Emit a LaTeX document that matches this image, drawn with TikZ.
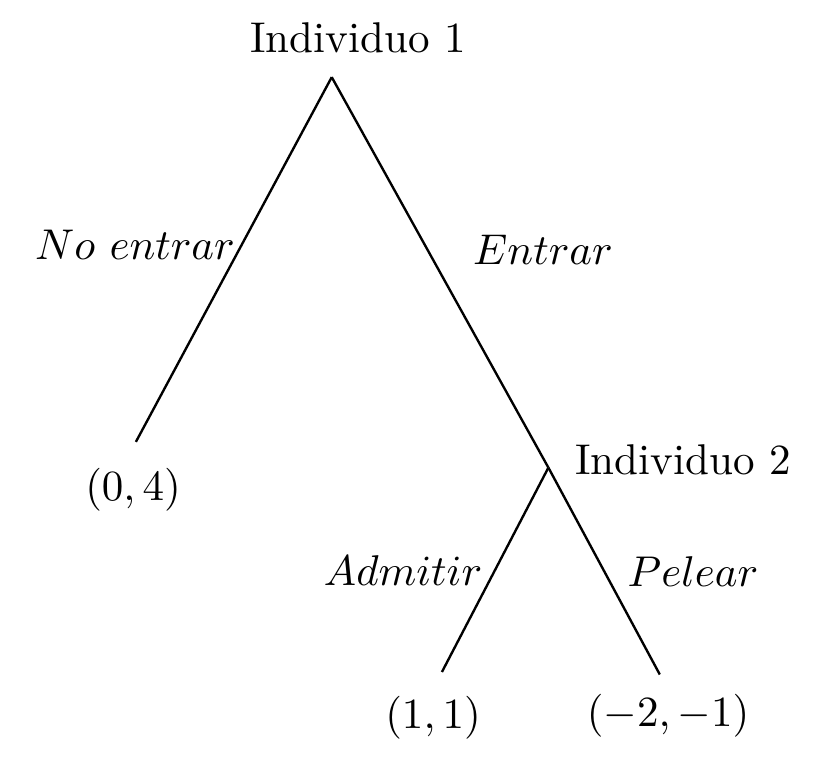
\documentclass[tikz,border=0pt]{standalone}
\usepackage{amsmath}
\usetikzlibrary{positioning}

\begin{document}
\begin{tikzpicture}[
  rama/.style={line width=0.55pt},
  jug/.style={inner sep=0pt},
  accion/.style={inner sep=0pt},
  pago/.style={inner sep=0pt}]

\useasboundingbox (0,0) rectangle (6.65,-6.225);

% ---------------- decision nodes and leaves ----------------
\coordinate (raiz) at (2.71,-0.63);
\coordinate (fuera) at (1.11,-3.61);
\coordinate (ind2) at (4.48,-3.82);
\coordinate (admite) at (3.61,-5.49);
\coordinate (pelea) at (5.39,-5.51);

\node[jug] (j1) at (2.925,-0.31) {Individuo 1};
\node[jug] (j2) at (5.58,-3.758) {Individuo 2};

% ---------------- branches ----------------
\draw[rama] (raiz) -- (fuera);
\draw[rama] (raiz) -- (ind2);
\draw[rama] (ind2) -- (admite);
\draw[rama] (ind2) -- (pelea);

% ---------------- action labels ----------------
\node[accion] (noent) at (1.103,-2.002) {$No\ entrar$};
\node[accion] (ent) at (4.436,-2.043) {$Entrar$};
\node[accion] (adm) at (3.293,-4.657) {$Admitir$};
\node[accion] (pel) at (5.662,-4.673) {$Pelear$};

% ---------------- payoffs ----------------
\node[pago] (p1) at (1.087,-4.003) {$(0,4)$};
\node[pago] (p2) at (3.538,-5.866) {$(1,1)$};
\node[pago] (p3) at (5.458,-5.85) {$(-2,-1)$};

\end{tikzpicture}
\end{document}
